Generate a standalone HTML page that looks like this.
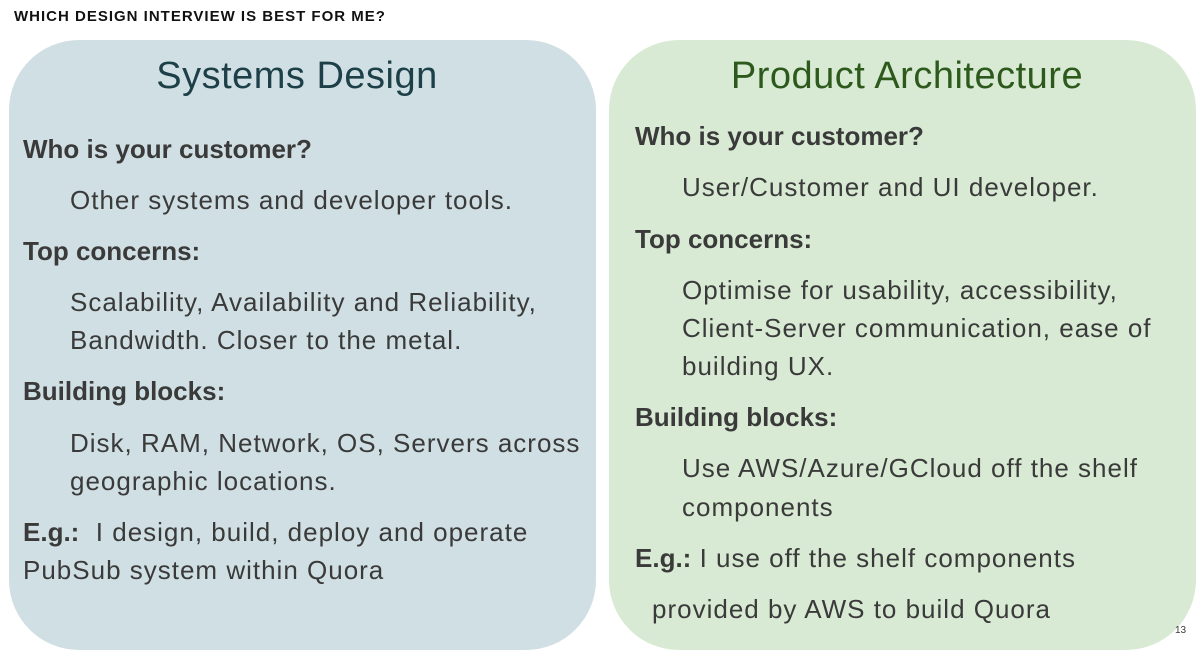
<!DOCTYPE html>
<html><head><meta charset="utf-8"><style>
body{margin:0;width:1200px;height:652px;background:#fff;position:relative;overflow:hidden;font-family:"Liberation Sans",sans-serif;}
.box{position:absolute;top:40px;height:610px;width:587px;border-radius:70px;}
.t{position:absolute;white-space:nowrap;line-height:30px;font-size:26px;letter-spacing:1px;color:#3a3a3a;}
.b{font-weight:bold;letter-spacing:0;}
.t b{letter-spacing:0;}
.h{position:absolute;white-space:nowrap;font-size:38px;letter-spacing:0.5px;line-height:40px;}
</style></head><body>
<div class="t b" style="left:14px;top:4px;font-size:15px;letter-spacing:1px;line-height:26px;color:#111">WHICH DESIGN INTERVIEW IS BEST FOR ME?</div>
<div class="box" style="left:9px;background:#d0dfe3"></div>
<div class="box" style="left:609px;background:#d8ead4"></div>
<div class="h" style="left:0;width:594px;text-align:center;top:56px;color:#1d3f48">Systems Design</div>
<div class="h" style="left:610px;width:594px;text-align:center;top:56px;color:#2d5a1c">Product Architecture</div>

<div class="t b" style="left:23px;top:134px">Who is your customer?</div>
<div class="t" style="left:70px;top:185px">Other systems and developer tools.</div>
<div class="t b" style="left:23px;top:236px">Top concerns:</div>
<div class="t" style="left:70px;top:287px">Scalability, Availability and Reliability,</div>
<div class="t" style="left:70px;top:325px">Bandwidth. Closer to the metal.</div>
<div class="t b" style="left:23px;top:376px">Building blocks:</div>
<div class="t" style="left:70px;top:428px">Disk, RAM, Network, OS, Servers across</div>
<div class="t" style="left:70px;top:466px">geographic locations.</div>
<div class="t" style="left:23px;top:517px"><b>E.g.:</b>&nbsp; I design, build, deploy and operate</div>
<div class="t" style="left:23px;top:555px">PubSub system within Quora</div>

<div class="t b" style="left:635px;top:121px">Who is your customer?</div>
<div class="t" style="left:682px;top:172px">User/Customer and UI developer.</div>
<div class="t b" style="left:635px;top:224px">Top concerns:</div>
<div class="t" style="left:682px;top:275px">Optimise for usability, accessibility,</div>
<div class="t" style="left:682px;top:313px">Client-Server communication, ease of</div>
<div class="t" style="left:682px;top:351px">building UX.</div>
<div class="t b" style="left:635px;top:402px">Building blocks:</div>
<div class="t" style="left:682px;top:453px">Use AWS/Azure/GCloud off the shelf</div>
<div class="t" style="left:682px;top:492px">components</div>
<div class="t" style="left:635px;top:543px"><b>E.g.:</b> I use off the shelf components</div>
<div class="t" style="left:652px;top:594px">provided by AWS to build Quora</div>
<div class="t" style="left:1175px;top:624px;font-size:10px;letter-spacing:0;line-height:14px">13</div>
</body></html>
